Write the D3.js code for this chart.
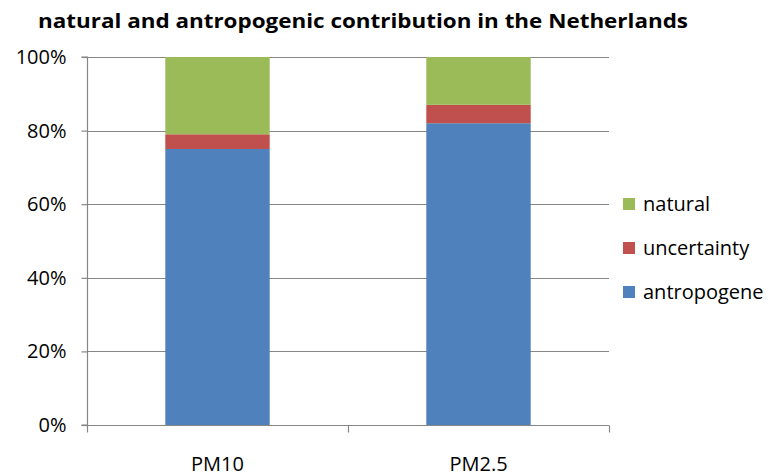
<!DOCTYPE html>
<html><head><meta charset="utf-8">
<script src="https://cdn.jsdelivr.net/npm/d3@7"></script>
<style>body{margin:0;background:#fff}svg{display:block}text{font-family:"Open Sans",sans-serif;fill:#000}</style>
</head><body><svg id="c" width="772" height="475"></svg>
<script>
const categories = ["PM10", "PM2.5"];
const antropogene = [0.75, 0.82];
const uncertainty = [0.04, 0.05];
const natural = [0.21, 0.13];
const seriesNames = ["antropogene", "uncertainty", "natural"];
const seriesColors = ["#4F81BD", "#C0504D", "#9BBB59"];
const yTicks = [0, 0.2, 0.4, 0.6, 0.8, 1.0];
const title = "natural and antropogenic contribution in the Netherlands";

const svg = d3.select("#c");
const L = 87, R = 609, T = 57, B = 425;
const FS = 20;
const x = d3.scaleBand().domain(categories).range([L, R]).paddingInner(0.6).paddingOuter(0.3);
const y = d3.scaleLinear().domain([0, 1]).range([B, T]);

const rows = categories.map((c, i) => ({cat: c, antropogene: antropogene[i], uncertainty: uncertainty[i], natural: natural[i]}));
const stacked = d3.stack().keys(seriesNames)(rows);

// gridlines
svg.append("g").selectAll("line").data(yTicks.filter(d => d > 0)).join("line")
  .attr("x1", L).attr("x2", R).attr("y1", d => Math.round(y(d)) + 0.5).attr("y2", d => Math.round(y(d)) + 0.5)
  .attr("stroke", "#868686").attr("stroke-width", 1.2);

// bars
svg.append("g").selectAll("g").data(stacked).join("g")
  .attr("fill", (d, i) => seriesColors[i])
  .selectAll("rect").data(d => d).join("rect")
  .attr("x", d => x(d.data.cat)).attr("width", x.bandwidth())
  .attr("y", d => y(d[1])).attr("height", d => y(d[0]) - y(d[1]));

// y axis
const yAxis = d3.axisLeft(y).tickValues(yTicks).tickFormat(d3.format(".0%")).tickSize(6).tickPadding(15);
const gy = svg.append("g").attr("transform", `translate(${L + 0.5},0)`).call(yAxis);
gy.selectAll("path,line").attr("stroke", "#868686").attr("stroke-width", 1.2);
gy.select(".domain").attr("d", `M-6,${T}H0V${B}H-6`);
gy.selectAll("text").attr("font-size", FS).attr("font-family", "'Open Sans',sans-serif").attr("fill", "#000");

// x axis
const gx = svg.append("g").attr("transform", `translate(0,${B + 0.5})`);
gx.append("line").attr("x1", L).attr("x2", R).attr("stroke", "#868686").attr("stroke-width", 1.2);
const bounds = [L, (L + R) / 2, R];
gx.selectAll(".tk").data(bounds).join("line").attr("class", "tk")
  .attr("x1", d => Math.round(d) + 0.5).attr("x2", d => Math.round(d) + 0.5).attr("y1", 0).attr("y2", 7)
  .attr("stroke", "#868686").attr("stroke-width", 1.2);
gx.selectAll("text").data(categories).join("text")
  .attr("x", d => x(d) + x.bandwidth() / 2).attr("y", 45).attr("text-anchor", "middle")
  .attr("font-size", FS).text(d => d);

// title
svg.append("text").attr("x", 38).attr("y", 28).attr("font-size", 20).attr("font-weight", "bold")
  .attr("textLength", 650).attr("lengthAdjust", "spacingAndGlyphs").text(title);

// legend
const legendOrder = [2, 1, 0];
const lg = svg.append("g").selectAll("g").data(legendOrder).join("g")
  .attr("transform", (d, i) => `translate(623,${198 + i * 44})`);
lg.append("rect").attr("width", 12).attr("height", 12).attr("fill", d => seriesColors[d]);
lg.append("text").attr("x", 20).attr("y", 13).attr("font-size", FS).text(d => seriesNames[d]);
</script></body></html>
